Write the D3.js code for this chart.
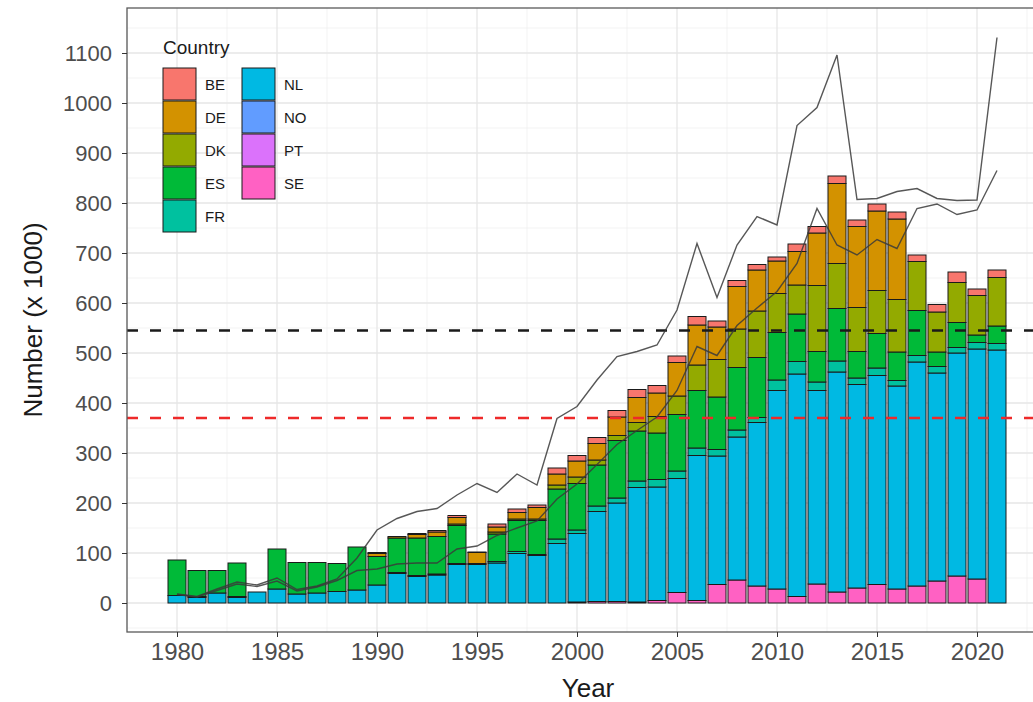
<!DOCTYPE html>
<html>

<head>
    <script src="https://d3js.org/d3.v7.min.js"></script>
    <style>
        body { margin: 0; background: #fff; }
        text { font-family: "Liberation Sans", Arial, sans-serif; }
    </style>
    <script>
        // data, numbers x 1000
        const years = d3.range(1980, 2022)
        const countries = ["BE", "DE", "DK", "ES", "FR", "NL", "NO", "PT", "SE"]
        const colours = ["#F8766D", "#D39200", "#93AA00", "#00BA38", "#00C19F", "#00B9E3", "#619CFF", "#DB72FB", "#FF61C3"]

        const BE = [0, 0, 0, 0, 0, 0, 0, 0, 0, 0, 2, 0, 2, 3, 4, 1, 6, 7, 5, 12, 11, 12, 13, 16, 15, 13, 17, 12, 12, 11, 8, 15, 13, 15, 13, 14, 14, 13, 15, 21, 13, 15]
        const DE = [0, 0, 0, 0, 0, 0, 0, 0, 0, 0, 6, 3, 7, 9, 13, 22, 10, 13, 23, 22, 32, 33, 37, 50, 47, 67, 80, 65, 85, 82, 65, 67, 105, 160, 162, 159, 161, 0, 0, 0, 0, 0]
        const DK = [0, 0, 0, 0, 0, 0, 0, 0, 0, 0, 0, 0, 0, 0, 3, 0, 4, 3, 3, 8, 13, 10, 10, 17, 33, 37, 51, 75, 77, 93, 78, 58, 132, 90, 88, 86, 105, 98, 80, 80, 79, 97]
        const ES = [71, 52, 45, 67, 0, 80, 63, 61, 56, 86, 57, 69, 75, 75, 76, 2, 55, 62, 68, 100, 93, 82, 115, 100, 93, 113, 115, 105, 125, 120, 95, 95, 61, 105, 53, 69, 57, 90, 29, 50, 15, 35]
        const FR = [0, 2, 0, 2, 0, 0, 0, 0, 0, 0, 0, 2, 2, 2, 2, 0, 3, 4, 2, 9, 7, 11, 10, 13, 15, 15, 15, 13, 14, 10, 21, 25, 17, 22, 13, 15, 11, 13, 13, 11, 13, 13]
        const NL = [15, 11, 20, 11, 22, 28, 18, 20, 23, 26, 36, 59, 53, 56, 77, 77, 80, 99, 95, 119, 137, 180, 197, 229, 227, 228, 290, 257, 286, 327, 397, 445, 387, 440, 407, 418, 406, 448, 416, 446, 460, 506]
        const NO = years.map(() => 0)
        const PT = years.map(() => 0)
        const SE = [0, 0, 0, 0, 0, 0, 0, 0, 0, 0, 0, 0, 0, 0, 0, 0, 0, 0, 0, 0, 2, 3, 3, 2, 5, 21, 5, 37, 46, 34, 28, 13, 38, 22, 30, 37, 28, 34, 44, 54, 48, 0]

        // the two thin lines
        const upperLine = [18, 13, 28, 42, 36, 50, 27, 34, 48, 90, 146, 169, 183, 189, 216, 239, 221, 258, 236, 369, 393, 446, 493, 503, 516, 586, 719, 611, 716, 773, 756, 955, 991, 1096, 807, 809, 823, 829, 809, 805, 806, 1131]
        const lowerLine = [17, 12, 25, 38, 33, 44, 24, 32, 45, 65, 68, 78, 80, 80, 108, 114, 135, 150, 164, 208, 238, 277, 317, 345, 372, 425, 513, 495, 555, 590, 623, 679, 789, 716, 696, 727, 709, 789, 798, 777, 786, 865]

        const refLevels = [545, 370]
        const refColours = ["#1a1a1a", "#ee2a2a"]
        const yTicks = d3.range(0, 1101, 100)
        const xTicks = [1980, 1985, 1990, 1995, 2000, 2005, 2010, 2015, 2020]

        const byCountry = { BE, DE, DK, ES, FR, NL, NO, PT, SE }

        function drawChart() {
            const svg = d3.select("#chart")
            const left = 127, right = 1047, top = 8, bottom = 632

            const x = d3.scaleLinear().domain([1977.5, 2023.5]).range([left, right])
            const y = d3.scaleLinear().domain([-58, 1190]).range([bottom, top])
            const colour = d3.scaleOrdinal().domain(countries).range(colours)

            const rows = years.map((yr, i) => {
                const row = { year: yr }
                countries.forEach(c => row[c] = byCountry[c][i])
                return row
            })
            // first factor level ends on top, as in ggplot
            const stacked = d3.stack().keys(countries.slice().reverse())(rows)

            svg.append("clipPath").attr("id", "panelClip")
                .append("rect").attr("x", left).attr("y", top)
                .attr("width", right - left).attr("height", bottom - top)

            // grid
            const grid = svg.append("g")
            const minorY = d3.range(-50, 1190, 50).filter(v => v % 100 != 0)
            const minorX = d3.range(1977.5, 2023.5, 2.5).filter(v => v % 5 != 0)
            grid.selectAll(".minY").data(minorY).enter().append("line")
                .attr("x1", left).attr("x2", right).attr("y1", d => y(d)).attr("y2", d => y(d))
                .attr("stroke", "#f0f0f0").attr("stroke-width", 0.8)
            grid.selectAll(".minX").data(minorX).enter().append("line")
                .attr("y1", top).attr("y2", bottom).attr("x1", d => x(d)).attr("x2", d => x(d))
                .attr("stroke", "#f0f0f0").attr("stroke-width", 0.8)
            grid.selectAll(".majY").data(yTicks).enter().append("line")
                .attr("x1", left).attr("x2", right).attr("y1", d => y(d)).attr("y2", d => y(d))
                .attr("stroke", "#e6e6e6").attr("stroke-width", 1.3)
            grid.selectAll(".majX").data(xTicks).enter().append("line")
                .attr("y1", top).attr("y2", bottom).attr("x1", d => x(d)).attr("x2", d => x(d))
                .attr("stroke", "#e6e6e6").attr("stroke-width", 1.3)

            // bars
            const bw = (x(1) - x(0)) * 0.9
            const plot = svg.append("g").attr("clip-path", "url(#panelClip)")
            plot.selectAll(".layer").data(stacked).enter().append("g")
                .attr("fill", d => colour(d.key))
                .selectAll("rect").data(d => d.filter(s => s[1] - s[0] > 0)).enter().append("rect")
                .attr("x", d => x(d.data.year) - bw / 2)
                .attr("width", bw)
                .attr("y", d => y(d[1]))
                .attr("height", d => y(d[0]) - y(d[1]))
                .attr("stroke", "#1a1a1a").attr("stroke-width", 1)

            // reference lines
            plot.selectAll(".ref").data(refLevels).enter().append("line")
                .attr("x1", left).attr("x2", right)
                .attr("y1", d => y(d)).attr("y2", d => y(d))
                .attr("stroke", (d, i) => refColours[i])
                .attr("stroke-width", 2.6).attr("stroke-dasharray", "11,12")

            const line = d3.line().x((d, i) => x(years[i])).y(d => y(d))
            plot.selectAll(".trend").data([upperLine, lowerLine]).enter().append("path")
                .attr("d", line).attr("fill", "none")
                .attr("stroke", "#3a3a3a").attr("stroke-width", 1.4).attr("opacity", 0.85)

            // panel border
            svg.append("rect").attr("x", left).attr("y", top)
                .attr("width", right - left).attr("height", bottom - top)
                .attr("fill", "none").attr("stroke", "#5a5a5a").attr("stroke-width", 1.3)

            // axes
            const yAxis = svg.append("g").attr("transform", `translate(${left},0)`)
                .call(d3.axisLeft(y).tickValues(yTicks).tickFormat(d3.format("d")).tickSize(5).tickPadding(10))
            const xAxis = svg.append("g").attr("transform", `translate(0,${bottom})`)
                .call(d3.axisBottom(x).tickValues(xTicks).tickFormat(d3.format("d")).tickSize(5).tickPadding(6))
            ;[xAxis, yAxis].forEach(a => {
                a.select(".domain").remove()
                a.selectAll(".tick line").attr("stroke", "#333")
                a.selectAll(".tick text").attr("fill", "#4d4d4d")
                    .attr("font-family", "Liberation Sans, Arial, sans-serif")
            })
            yAxis.selectAll(".tick text").attr("font-size", 22)
            xAxis.selectAll(".tick text").attr("font-size", 24)

            svg.append("text").attr("x", 588).attr("y", 697).attr("text-anchor", "middle")
                .attr("font-size", 26).attr("fill", "#1a1a1a").text("Year")
            svg.append("text").attr("transform", "translate(42,320) rotate(-90)")
                .attr("text-anchor", "middle").attr("font-size", 26).attr("fill", "#1a1a1a")
                .text("Number (x 1000)")

            // legend
            const legend = svg.append("g")
            legend.append("text").attr("x", 163).attr("y", 54).attr("font-size", 19)
                .attr("fill", "#1a1a1a").text("Country")
            const items = legend.selectAll(".key").data(countries).enter().append("g")
                .attr("transform", (d, i) => `translate(${i < 5 ? 163 : 242},${68 + (i % 5) * 33})`)
            items.append("rect").attr("width", 33).attr("height", 32)
                .attr("fill", d => colour(d)).attr("stroke", "#1a1a1a").attr("stroke-width", 1)
            items.append("text").attr("x", 42).attr("y", 22).attr("font-size", 15)
                .attr("fill", "#1a1a1a").text(d => d)
        }
    </script>
</head>

<body onload="drawChart()">
    <svg id="chart" width="1033" height="702"></svg>
</body>

</html>
